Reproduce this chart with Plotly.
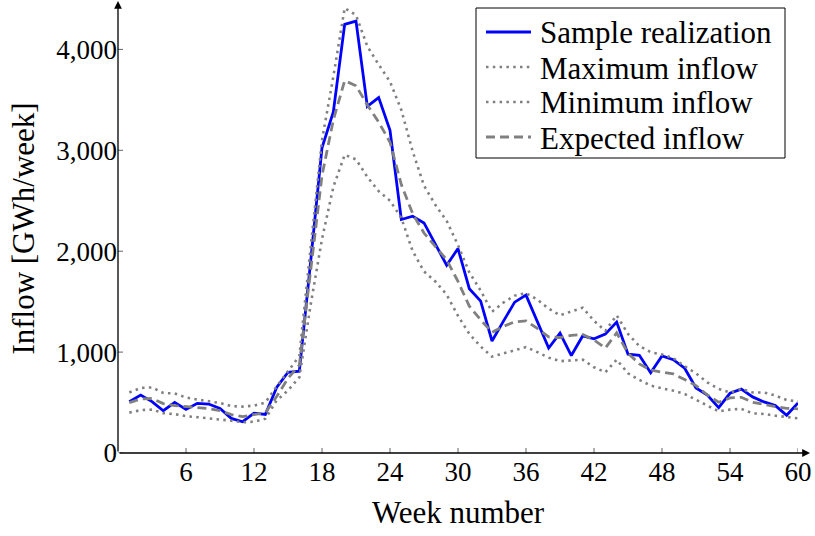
import plotly.graph_objects as go

weeks = list(range(1, 61))

sample = [508, 574, 510, 419, 502, 432, 492, 485, 442, 343,
          310, 395, 382, 650, 800, 811, 1900, 3025, 3380, 4248,
          4280, 3436, 3522, 3198, 2314, 2347, 2280, 2076, 1861, 2026,
          1628, 1505, 1110, 1305, 1495, 1565, 1310, 1040, 1188, 966,
          1160, 1132, 1178, 1297, 980, 968, 795, 962, 925, 840,
          645, 575, 450, 592, 633, 556, 506, 470, 374, 495]

maximum = [600, 645, 650, 595, 590, 550, 530, 515, 495, 465,
           460, 470, 500, 660, 810, 960, 2040, 3100, 3730, 4410,
           4340, 4030, 3850, 3680, 3400, 2990, 2650, 2460, 2300, 2060,
           1790, 1610, 1400, 1490, 1560, 1585, 1520, 1430, 1365, 1400,
           1440, 1310, 1210, 1365, 1180, 1060, 1000, 975, 940, 860,
           790, 700, 635, 600, 635, 600, 600, 570, 525, 510]

minimum = [400, 425, 430, 395, 385, 365, 355, 345, 335, 320,
           305, 310, 340, 520, 620, 750, 1470, 2120, 2636, 2955,
           2910, 2736, 2595, 2500, 2330, 2000, 1800, 1700, 1570, 1360,
           1180, 1055, 955, 985, 1020, 1050, 1000, 945, 910, 920,
           925, 850, 800, 925, 790, 725, 668, 641, 618, 585,
           526, 469, 413, 430, 437, 393, 387, 370, 354, 344]

expected = [500, 535, 540, 490, 470, 460, 450, 440, 420, 380,
            360, 380, 400, 560, 740, 870, 1800, 2750, 3300, 3690,
            3640, 3450, 3280, 3080, 2660, 2372, 2180, 2050, 1915, 1700,
            1455, 1320, 1195, 1255, 1300, 1310, 1235, 1150, 1145, 1165,
            1175, 1120, 1040, 1190, 990, 883, 823, 800, 784, 728,
            668, 575, 503, 546, 552, 503, 480, 460, 443, 437]

x_ticks = [6, 12, 18, 24, 30, 36, 42, 48, 54, 60]
y_ticks = [0, 1000, 2000, 3000, 4000]
series_names = ["Sample realization", "Maximum inflow", "Minimum inflow", "Expected inflow"]

FONT = "Liberation Serif"
GRAY = "rgb(128,128,128)"
BLUE = "rgb(0,0,255)"
styles = [
    dict(color=BLUE, width=2.8, dash="solid"),
    dict(color=GRAY, width=2.6, dash="2.5px,4.3px"),
    dict(color=GRAY, width=2.6, dash="2.5px,4.3px"),
    dict(color=GRAY, width=2.8, dash="9px,5px"),
]

fig = go.Figure()
for name, ys, st in zip(series_names, [sample, maximum, minimum, expected], styles):
    fig.add_trace(go.Scatter(x=weeks, y=ys, mode="lines", name=name, line=st,
                             showlegend=False))

L, R, T, B = 118, 17, 4, 83
W, H = 815, 536
pw = W - L - R
ph = H - T - B


def px(xp):
    return (xp - L) / pw


def py(yp):
    return (H - B - yp) / ph


shapes = []
for t in x_ticks:
    shapes.append(dict(type="line", xref="x", yref="y", x0=t, x1=t,
                       ysizemode="pixel", yanchor=0, y0=-5, y1=5,
                       line=dict(color="rgb(100,100,100)", width=1)))
for t in y_ticks:
    shapes.append(dict(type="line", yref="y", xref="x", y0=t, y1=t,
                       xsizemode="pixel", xanchor=0, x0=-5, x1=5,
                       line=dict(color="rgb(100,100,100)", width=1)))

annotations = [
    dict(xref="paper", yref="paper", x=1 + 12 / pw, y=0, ax=-(pw + 12), ay=0,
         axref="pixel", ayref="pixel", text="", showarrow=True,
         arrowhead=2, arrowsize=1.2, arrowwidth=1.3, arrowcolor="black"),
    dict(xref="paper", yref="paper", x=0, y=1 + 3 / ph, ax=0, ay=ph + 3,
         axref="pixel", ayref="pixel", text="", showarrow=True,
         arrowhead=2, arrowsize=1.2, arrowwidth=1.3, arrowcolor="black"),
]

# legend box drawn by hand
shapes.append(dict(type="rect", xref="paper", yref="paper",
                   x0=px(476), x1=px(785), y0=py(158), y1=py(8),
                   line=dict(color="black", width=1), fillcolor="white", layer="above"))
row_y = [32, 67, 102, 137]
for name, st, ry in zip(series_names, styles, row_y):
    shapes.append(dict(type="line", xref="paper", yref="paper",
                       x0=px(486), x1=px(531), y0=py(ry), y1=py(ry),
                       line=dict(color=st["color"], width=st["width"], dash=st["dash"]),
                       layer="above"))
    annotations.append(dict(xref="paper", yref="paper", x=px(538), y=py(ry + 1),
                            xanchor="left", yanchor="middle", text=name, showarrow=False,
                            font=dict(family=FONT, size=31, color="black")))

fig.update_layout(
    width=W, height=H,
    margin=dict(l=L, r=R, t=T, b=B, autoexpand=False),
    plot_bgcolor="white", paper_bgcolor="white",
    font=dict(family=FONT, size=27, color="black"),
    showlegend=False,
    shapes=shapes,
    annotations=annotations,
)
fig.update_xaxes(range=[0, 60], tickvals=x_ticks, ticks="", showline=False,
                 showgrid=False, zeroline=False, automargin=False,
                 title=dict(text="Week number", standoff=15,
                            font=dict(family=FONT, size=31, color="black")),
                 tickfont=dict(family=FONT, size=27, color="black"))
fig.update_yaxes(range=[0, 4450], tickvals=y_ticks, tickformat=",", ticks="",
                 showline=False, showgrid=False, zeroline=False, automargin=False,
                 title=dict(text="Inflow [GWh/week]", standoff=12,
                            font=dict(family=FONT, size=31, color="black")),
                 tickfont=dict(family=FONT, size=27, color="black"))

fig.write_html("out.html")
